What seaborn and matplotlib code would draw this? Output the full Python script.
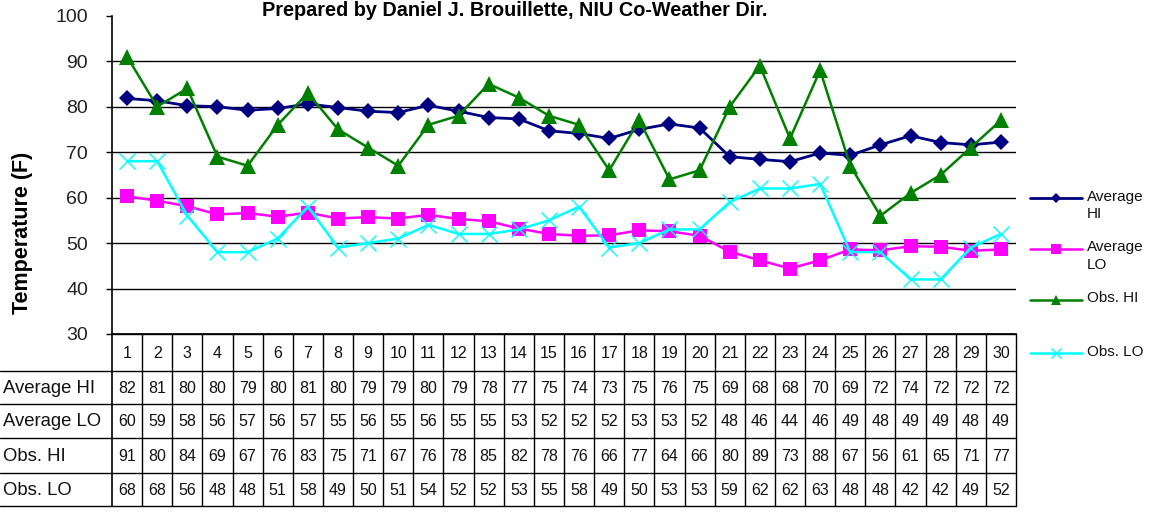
import matplotlib
matplotlib.use("Agg")
import matplotlib.pyplot as plt
import seaborn as sns
import pandas as pd
from matplotlib.lines import Line2D

# ---------------- data ----------------
days = list(range(1, 31))
avg_hi = [81.8, 81.3, 80.2, 80.0, 79.2, 79.6, 80.6, 79.8, 79.0, 78.7,
          80.3, 79.0, 77.6, 77.3, 74.7, 74.1, 73.0, 75.0, 76.2, 75.3,
          69.0, 68.4, 67.9, 69.8, 69.3, 71.6, 73.6, 72.1, 71.6, 72.2]
avg_lo = [60.3, 59.3, 58.1, 56.3, 56.6, 55.8, 56.7, 55.4, 55.7, 55.4,
          56.2, 55.3, 54.8, 53.2, 52.0, 51.6, 51.7, 52.8, 52.6, 51.6,
          48.1, 46.2, 44.4, 46.2, 48.6, 48.4, 49.3, 49.2, 48.3, 48.6]
obs_hi = [91, 80, 84, 69, 67, 76, 83, 75, 71, 67, 76, 78, 85, 82, 78,
          76, 66, 77, 64, 66, 80, 89, 73, 88, 67, 56, 61, 65, 71, 77]
obs_lo = [68, 68, 56, 48, 48, 51, 58, 49, 50, 51, 54, 52, 52, 53, 55,
          58, 49, 50, 53, 53, 59, 62, 62, 63, 48, 48, 42, 42, 49, 52]
series_names = ["Average HI", "Average LO", "Obs. HI", "Obs. LO"]
legend_labels = ["Average\nHI", "Average\nLO", "Obs. HI", "Obs. LO"]
y_ticks = [30, 40, 50, 60, 70, 80, 90, 100]
title = "Prepared by Daniel J. Brouillette, NIU Co-Weather Dir."
y_label = "Temperature (F)"

# ---------------- style ----------------
sns.set_style("white")
plt.rcParams['font.family'] = ['Liberation Sans', 'DejaVu Sans']

W, H = 1159, 512
fig = plt.figure(figsize=(W / 100, H / 100), dpi=100)

def fx(px):
    return px / W

def fy(py):
    return 1 - py / H

ax_l, ax_r, ax_t, ax_b = 112, 1016, 15.7, 334
ax = fig.add_axes([fx(ax_l), fy(ax_b), fx(ax_r - ax_l), (ax_b - ax_t) / H])

styles = {
    "Average HI": dict(color="#000080", marker="D", ms=8.5, lw=2.0, mew=0),
    "Average LO": dict(color="#FF00FF", marker="s", ms=10.5, lw=1.8, mew=0),
    "Obs. HI": dict(color="#008000", marker="^", ms=11, lw=1.8, mew=0),
    "Obs. LO": dict(color="#00FFFF", marker="x", ms=11, lw=1.8, mew=1.0),
}
values = {"Average HI": avg_hi, "Average LO": avg_lo,
          "Obs. HI": obs_hi, "Obs. LO": obs_lo}

for i, name in enumerate(series_names):
    st = styles[name]
    df = pd.DataFrame({"day": days, "temp": values[name]})
    sns.lineplot(data=df, x="day", y="temp", ax=ax, color=st["color"],
                 marker=st["marker"], markersize=st["ms"], linewidth=st["lw"],
                 markeredgewidth=st["mew"], markeredgecolor=st["color"],
                 zorder=3 + i, legend=False)

ax.set_xlim(0.5, 30.5)
ax.set_ylim(30, 100)
ax.set_yticks(y_ticks)
ax.set_xticks([])
ax.set_xlabel("")
ax.tick_params(axis="y", direction="out", length=4.3, width=1, color="black",
               pad=13, labelsize=14, labelcolor="#222222", left=True)
for s in ["top", "right"]:
    ax.spines[s].set_visible(False)
for s in ["left", "bottom"]:
    ax.spines[s].set_color("black")
    ax.spines[s].set_linewidth(1.2)
ax.yaxis.grid(True, color="black", linewidth=1.0)
ax.set_axisbelow(True)
ax.yaxis.get_gridlines()[-1].set_visible(False)
ax.set_ylabel(y_label, fontsize=15.5, fontweight="bold", color="black")
ax.yaxis.set_label_coords((33 - ax_l) / (ax_r - ax_l), (ax_b - 233) / (ax_b - ax_t))

fig.text(fx(515), fy(15.5), title, ha="center", va="baseline",
         fontsize=14.3, fontweight="bold", color="black")

# ---------------- data table ----------------
row_edges = [334, 371, 404, 438, 473, 506]
col_w = (ax_r - ax_l) / 30
lc = "black"
for k, yy in enumerate(row_edges):
    x0 = ax_l if k == 0 else 0
    fig.add_artist(Line2D([fx(x0), fx(ax_r)], [fy(yy), fy(yy)], color=lc, lw=1.0))
for c in range(31):
    xx = ax_l + c * col_w
    fig.add_artist(Line2D([fx(xx), fx(xx)], [fy(row_edges[0]), fy(row_edges[-1])],
                          color=lc, lw=1.0 if c else 1.2))

table_rows = [avg_hi, avg_lo, obs_hi, obs_lo]
tfont = dict(fontsize=11.5, color="#111111")
hc = (row_edges[0] + row_edges[1]) / 2 + 1
for d in days:
    xc = ax_l + (d - 0.5) * col_w
    fig.text(fx(xc), fy(hc), str(d), ha="center", va="center", **tfont)
for r, (name, vals) in enumerate(zip(series_names, table_rows)):
    yc = (row_edges[r + 1] + row_edges[r + 2]) / 2 + 1
    fig.text(fx(3), fy(yc), name, ha="left", va="center",
             fontsize=13.3, color="#111111")
    for d, v in zip(days, vals):
        xc = ax_l + (d - 0.5) * col_w
        fig.text(fx(xc), fy(yc), f"{v:.0f}", ha="center", va="center", **tfont)

# ---------------- legend ----------------
leg_y = [198, 249, 300, 353]
leg_ms = {"Average HI": 5.5, "Average LO": 7.5, "Obs. HI": 7, "Obs. LO": 6.5}
for name, lab, yy in zip(series_names, legend_labels, leg_y):
    st = styles[name]
    fig.add_artist(Line2D([fx(1030), fx(1056), fx(1082)], [fy(yy)] * 3,
                          color=st["color"], lw=st["lw"], marker=st["marker"],
                          ms=leg_ms[name], mew=st["mew"], mec=st["color"],
                          markevery=[1]))
    fig.text(fx(1087), fy(yy - 8.5), lab, ha="left", va="top",
             fontsize=11, color="#111111", linespacing=1.3)

fig.savefig("out.png", dpi=100)
